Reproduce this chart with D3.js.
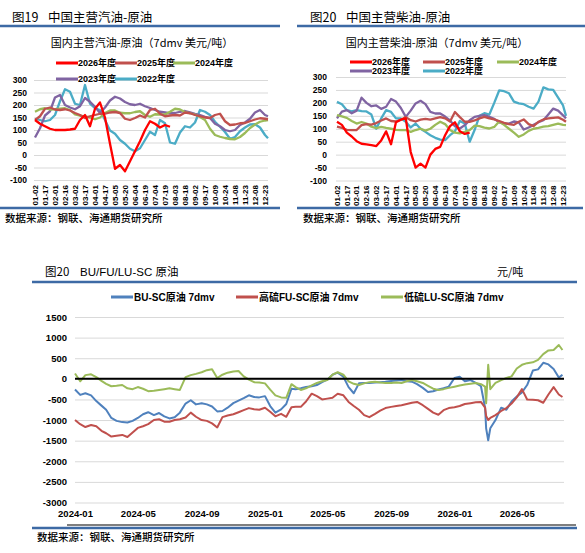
<!DOCTYPE html>
<html>
<head>
<meta charset="UTF-8">
<script src="https://cdn.jsdelivr.net/npm/d3@7"></script>
<style>
  body { margin: 0; background: #fff; }
  svg text { font-family: "Liberation Sans", "Noto Sans CJK SC", sans-serif; }
  .cn { font-family: "Noto Sans CJK SC", sans-serif; }
</style>
</head>
<body>
<svg id="chart" width="585" height="553"></svg>
<script>
// ---------- seasonal charts (fig 19 / fig 20) ----------
var seasonTicks = ["01-02","01-17","02-01","02-16","03-02","03-17","04-01","04-17","05-05","05-20","06-04","06-19",
                   "07-04","07-19","08-03","08-18","09-02","09-17","10-09","10-24","11-08","11-23","12-08","12-23"];
// sample positions along the category axis (tick index units)
var seasonPos = d3.range(0, 23.01, 0.5).concat([23.3]);
var seasonNames = ["2026年度","2025年度","2024年度","2023年度","2022年度"];
var seasonColors = ["#FF0000","#C0504D","#9BBB59","#8064A2","#4BACC6"];

var gas2026 = [140,125,115,105,100,100,100,102,105,140,160,115,185,210,150,45,-55,-40,-65,-25,15,55,100,135,125,110,120,113];
var gas2025 = [140,155,185,190,182,180,183,178,168,160,148,155,160,165,165,170,172,168,145,140,148,158,150,180,
               185,165,155,158,160,158,170,167,160,155,150,148,160,165,135,120,122,127,128,135,142,147,145,143];
var gas2024 = [173,183,187,182,183,185,187,180,162,157,154,150,143,150,168,178,178,169,167,167,172,175,160,153,
               163,162,162,173,185,182,172,167,162,152,140,105,80,73,68,64,63,72,88,108,122,133,138,140];
var gas2023 = [70,107,158,175,230,240,200,190,183,195,228,213,193,168,190,218,233,226,212,203,200,205,195,188,
               180,173,170,167,168,173,176,171,165,160,153,148,125,115,100,95,100,120,130,145,170,180,160,155];
var gas2022 = [145,140,135,140,160,215,263,253,205,200,280,205,187,180,140,98,85,60,45,25,15,27,60,93,
               80,140,127,50,45,90,115,110,130,180,173,160,133,113,92,65,72,95,110,122,123,110,80,67];

var die2026 = [127,115,85,70,52,42,40,37,33,55,90,40,125,135,140,10,-50,-35,-50,0,22,30,75,110,125,90,80,85];
var die2025 = [108,103,96,95,95,114,118,116,122,132,140,130,128,135,145,133,128,135,138,135,140,145,140,128,
               165,145,127,127,132,140,146,140,136,130,123,118,115,127,136,118,110,127,136,140,142,144,135,127];
var die2024 = [153,148,142,130,120,126,120,108,102,107,103,100,96,95,95,88,95,100,93,100,115,127,118,95,
               85,82,88,95,112,110,104,101,107,128,115,100,85,69,78,92,100,103,108,110,115,120,115,114];
var die2023 = [140,166,172,160,170,220,200,187,190,177,185,215,205,180,146,170,198,208,195,165,159,159,147,132,
               110,101,114,133,146,150,153,146,138,125,120,120,128,125,97,105,115,125,133,155,178,170,152,140];
var die2022 = [204,195,172,167,172,168,167,155,100,140,172,165,140,140,127,105,120,100,88,75,65,58,56,75,
               90,130,120,50,95,150,160,155,200,248,245,237,205,198,195,185,178,205,260,252,250,220,190,150];

var seasonTickVals = [-100,-50,0,50,100,150,200,250,300];

// ---------- spread chart (BU/FU/LU-SC) ----------
// samples on the 1st/11th/21st of each month, plus two prints around the Mar-2026 spike and the last print
var spreadDates = [];
d3.timeMonths(new Date(2024,0,1), new Date(2026,7,1)).forEach(function(m){
  [1,11,21].forEach(function(dd){ spreadDates.push(new Date(m.getFullYear(), m.getMonth(), dd)); });
});
spreadDates.push(new Date(2026,2,3), new Date(2026,2,7), new Date(2026,6,28));
spreadDates.sort(function(a,b){ return a - b; });

var luSc = [130,-60,90,110,40,-50,-120,-180,-170,-150,
            -230,-250,-200,-240,-300,-290,-270,-250,-230,-250,
            -270,40,90,120,160,210,230,20,100,150,
            180,190,60,-20,-80,-90,-110,-260,-400,-450,
            -460,-130,-200,-270,-230,-160,-100,-60,-30,100,
            160,100,-60,-120,-150,-110,-80,-70,-90,-100,
            -100,-90,-100,-60,-30,-60,-100,-170,-240,-270,
            -250,-220,-190,-160,-140,-120,-100,-130,-190,
            -590,340,
            -250,-100,-30,20,60,250,340,380,400,460,600,690,700,820,700];
var buSc = [-260,-390,-350,-400,-540,-650,-750,-950,-1020,-1050,
            -1060,-1020,-950,-860,-810,-880,-830,-910,-960,-930,
            -820,-600,-520,-620,-590,-620,-670,-790,-780,-700,
            -590,-530,-470,-400,-440,-450,-420,-660,-820,-740,
            -610,-240,-250,-230,-200,-180,-150,-80,-20,100,
            150,50,-200,-350,-110,-100,-100,-90,-80,-70,
            -50,-40,-30,-60,-70,-130,-220,-320,-300,-260,
            -230,-190,20,50,-60,-30,-100,-180,-700,
            -1200,-1490,
            -1200,-1000,-700,-750,-550,-430,-330,-150,200,230,390,350,240,30,100];
var fuSc = [-1000,-1100,-1170,-1120,-1150,-1260,-1320,-1400,-1380,-1360,
            -1410,-1300,-1190,-1150,-1100,-1000,-980,-1040,-1040,-1000,
            -980,-940,-820,-920,-1000,-1020,-1080,-1180,-930,-890,
            -860,-810,-760,-710,-740,-750,-700,-800,-910,-850,
            -920,-690,-680,-680,-550,-360,-420,-500,-480,-460,
            -360,-400,-560,-660,-750,-880,-930,-850,-770,-710,
            -680,-660,-640,-610,-580,-560,-640,-730,-820,-870,
            -760,-710,-690,-660,-610,-590,-570,-560,-700,
            -900,-1000,
            -950,-880,-780,-710,-600,-450,-250,-500,-510,-520,-580,-380,-200,-380,-440];
var spreadNames = ["BU-SC原油 7dmv","高硫FU-SC原油 7dmv","低硫LU-SC原油 7dmv"];
var spreadColors = ["#4F81BD","#C0504D","#9BBB59"];
var spreadTickVals = d3.range(-3000, 1501, 500);

var svg = d3.select("#chart");
var ruleBlue = "#3D6AA5";

function header(num, title, x, xt, y, l0, l1, ly) {
  svg.append("text").attr("class","cn").attr("x",x).attr("y",y).attr("font-size",12.5).text(num);
  svg.append("text").attr("class","cn").attr("x",xt).attr("y",y).attr("font-size",12.5).text(title);
  svg.append("line").attr("x1",l0).attr("x2",l1).attr("y1",ly).attr("y2",ly)
     .attr("stroke",ruleBlue).attr("stroke-width",2.5);
}
function footer(x, y, l0, l1, ly) {
  svg.append("line").attr("x1",l0).attr("x2",l1).attr("y1",ly).attr("y2",ly)
     .attr("stroke",ruleBlue).attr("stroke-width",2.5);
  svg.append("text").attr("class","cn").attr("x",x).attr("y",y).attr("font-size",10.5)
     .attr("font-weight",500).text("数据来源：钢联、海通期货研究所");
}

function drawSeason(cfg) {
  var g = svg.append("g");
  var x = d3.scaleLinear().domain([-0.1, 23.3]).range([cfg.left, cfg.right]);
  var y = d3.scaleLinear().domain([-100, 300]).range([cfg.bottom, cfg.top]);

  g.append("text").attr("class","cn").attr("x",cfg.titleX).attr("y",47).attr("text-anchor","middle")
   .attr("font-size",11).text(cfg.title);

  var ax = g.append("g").attr("transform","translate(" + cfg.left + ",0)")
    .call(d3.axisLeft(y).tickValues(seasonTickVals).tickSize(-(cfg.right - cfg.left))
      .tickPadding(cfg.pad).tickFormat(function(d){ return String(d); }));
  ax.select(".domain").remove();
  ax.selectAll(".tick line").attr("stroke","#D9D9D9");
  ax.selectAll(".tick text").attr("font-size",8.5).attr("font-weight","bold").attr("fill","#000")
    .attr("font-family","Liberation Sans, Arial, sans-serif");

  g.selectAll(".xl").data(seasonTicks).enter().append("text")
    .attr("transform", function(d,i){ return "translate(" + x(i) + "," + (y(-100) + 5) + ") rotate(-90)"; })
    .attr("dy","0.35em").attr("text-anchor","end").attr("font-size",8)
    .attr("font-weight","bold").text(function(d){ return d; });

  var line = d3.line().x(function(d,i){ return x(seasonPos[i]); }).y(function(d){ return y(d); });
  for (var k = cfg.series.length - 1; k >= 0; k--) {
    g.append("path").datum(cfg.series[k]).attr("d", line).attr("fill","none")
      .attr("stroke", seasonColors[k]).attr("stroke-width",2.3).attr("stroke-linejoin","round");
  }

  cfg.legend.forEach(function(p, k){
    g.append("line").attr("x1",p[0]).attr("x2",p[0] + 22).attr("y1",p[1]).attr("y2",p[1])
      .attr("stroke",seasonColors[k]).attr("stroke-width",3);
    g.append("text").attr("x",p[0] + 22).attr("y",p[1]).attr("dy","0.35em")
      .attr("font-size",9).attr("font-weight","bold").text(seasonNames[k]);
  });
}

header("图19","中国主营汽油-原油", 12, 48, 22, 0, 280, 26);
header("图20","中国主营柴油-原油", 310, 346, 22, 297, 585, 26);

drawSeason({left:34, right:268, top:80, bottom:180, pad:7, titleX:142,
  title:"国内主营汽油-原油（7dmv 美元/吨）",
  series:[gas2026, gas2025, gas2024, gas2023, gas2022],
  legend:[[56,63],[115,63],[173,63],[56,79],[115,79]]});
drawSeason({left:336, right:566, top:77, bottom:180.5, pad:9, titleX:437,
  title:"国内主营柴油-原油（7dmv 美元/吨）",
  series:[die2026, die2025, die2024, die2023, die2022],
  legend:[[350,62],[423,62],[497,62],[350,71],[423,71]]});

footer(5, 222, 0, 280, 208);
footer(303, 222, 297, 583, 208);

// ---------- bottom chart ----------
(function(){
  var left = 75, right = 564;
  var x = d3.scaleTime().domain([new Date(2024,0,1), new Date(2026,6,31)]).range([left, right]);
  var y = d3.scaleLinear().domain([-3000, 1500]).range([502.5, 317]);
  var g = svg.append("g");

  g.append("text").attr("class","cn").attr("x",45).attr("y",276).attr("font-size",11.5).text("图20");
  g.append("text").attr("x",80).attr("y",276).attr("font-size",11.5)
   .attr("font-family","Liberation Sans, Noto Sans CJK SC, sans-serif").text("BU/FU/LU-SC 原油");
  g.append("text").attr("class","cn").attr("x",497).attr("y",276).attr("font-size",11).text("元/吨");
  g.append("line").attr("x1",32).attr("x2",577).attr("y1",282).attr("y2",282)
   .attr("stroke",ruleBlue).attr("stroke-width",2.5);

  var lg = [[111,297],[236,297],[381,297]];
  lg.forEach(function(p,k){
    g.append("line").attr("x1",p[0]).attr("x2",p[0] + 22).attr("y1",p[1]).attr("y2",p[1])
      .attr("stroke",spreadColors[k]).attr("stroke-width",3);
    g.append("text").attr("x",p[0] + 23).attr("y",p[1]).attr("dy","0.35em")
      .attr("font-size",10).attr("font-weight","bold").text(spreadNames[k]);
  });

  var ay = g.append("g").attr("transform","translate(" + left + ",0)")
    .call(d3.axisLeft(y).tickValues(spreadTickVals).tickSize(-(right - left)).tickPadding(8)
      .tickFormat(function(d){ return String(d); }));
  ay.select(".domain").remove();
  ay.selectAll(".tick line").attr("stroke","#D9D9D9");
  ay.selectAll(".tick text").attr("font-size",9.5).attr("font-weight","bold").attr("fill","#000")
    .attr("font-family","Liberation Sans, Arial, sans-serif");

  var axx = g.append("g").attr("transform","translate(0," + y(-3000) + ")")
    .call(d3.axisBottom(x).ticks(d3.timeMonth.every(4)).tickSize(0).tickPadding(8)
      .tickFormat(d3.timeFormat("%Y-%m")));
  axx.select(".domain").remove();
  axx.selectAll(".tick text").attr("font-size",9.5).attr("font-weight","bold").attr("fill","#000")
    .attr("font-family","Liberation Sans, Arial, sans-serif");

  var line = d3.line().x(function(d,i){ return x(spreadDates[i]); }).y(function(d){ return y(d); });
  [buSc, fuSc, luSc].forEach(function(s,k){
    g.append("path").datum(s).attr("d", line).attr("fill","none")
      .attr("stroke", spreadColors[k]).attr("stroke-width",2).attr("stroke-linejoin","round");
  });

  g.append("line").attr("x1",left).attr("x2",right).attr("y1",y(0)).attr("y2",y(0))
   .attr("stroke","#000").attr("stroke-width",2);

  g.append("line").attr("x1",67).attr("x2",576).attr("y1",525).attr("y2",525)
   .attr("stroke","#000").attr("stroke-width",1.2);
  footer(37, 541, 32, 577, 528);
})();
</script>
</body>
</html>
